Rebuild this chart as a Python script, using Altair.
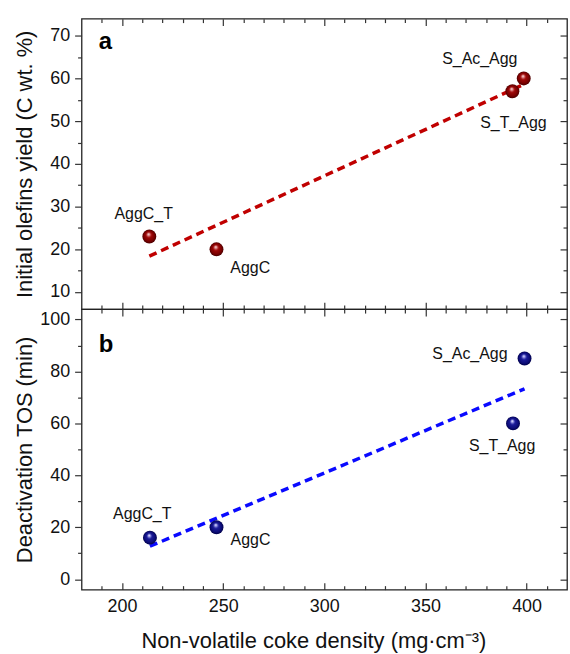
import altair as alt
import pandas as pd

# ---------------- data ----------------
samples = ["AggC_T", "AggC", "S_T_Agg", "S_Ac_Agg"]
density_a = [213.5, 246.7, 393.0, 398.6]
olefin_yield = [23.0, 20.0, 57.0, 60.0]
density_b = [213.8, 246.7, 393.3, 399.0]
deact_tos = [16.0, 20.0, 60.0, 85.0]

fit_a_x = [213.5, 398.6]
fit_a_y = [18.4, 58.6]
fit_b_x = [213.8, 399.0]
fit_b_y = [12.7, 73.3]

label_a_x = [210.7, 263.4, 393.5, 376.9]
label_a_y = [27.0, 14.4, 48.4, 63.3]
label_b_x = [210.0, 263.5, 387.9, 372.0]
label_b_y = [23.0, 13.1, 49.3, 84.7]

letter_a = ["a"]
letter_a_x = [188.5]
letter_a_y = [67.0]
letter_b = ["b"]
letter_b_x = [188.5]
letter_b_y = [87.6]

x_domain = [180, 420]
x_major = [200, 250, 300, 350, 400]
x_minor = [190, 210, 220, 230, 240, 260, 270, 280, 290, 310, 320, 330, 340,
           360, 370, 380, 390, 410]
ya_domain = [6, 74]
ya_major = [10, 20, 30, 40, 50, 60, 70]
ya_minor = [15, 25, 35, 45, 55, 65]
yb_domain = [-4, 104]
yb_major = [0, 20, 40, 60, 80, 100]
yb_minor = [10, 30, 50, 70, 90]

x_title = "Non-volatile coke density (mg\u00b7cm\u207b\u00b3)"
ya_title = "Initial olefins yield (C wt. %)"
yb_title = "Deactivation TOS (min)"

# ---------------- styling ----------------
FONT = "Liberation Sans"
INK = "#111111"
TICK = "#333333"
W = 488
HA = 292
HB = 282


def sphere(light, mid, dark, edge):
    return alt.RadialGradient(
        gradient="radial",
        stops=[
            alt.GradientStop(color="#ffffff", offset=0),
            alt.GradientStop(color=light, offset=0.14),
            alt.GradientStop(color=mid, offset=0.38),
            alt.GradientStop(color=dark, offset=0.78),
            alt.GradientStop(color=edge, offset=1),
        ],
        x1=0.44, y1=0.32, r1=0,
        x2=0.5, y2=0.5, r2=0.5,
    )


red_ball = sphere("#e8a0a0", "#a00808", "#7a0000", "#480000")
blue_ball = sphere("#a8a8f0", "#1c1c9a", "#0c0c78", "#000048")


def tick_axis(orient, values, size, offset=0):
    return alt.Axis(orient=orient, values=values, tickSize=size, tickColor=TICK,
                    tickWidth=1.2, labels=False, domain=False, grid=False,
                    title=None, offset=offset)


def build_panel(H, px, py, fx, fy, lx, ly, let_txt, let_x, let_y,
                ydom, ymaj, ymin, ytitle, ball, line_color, show_x):
    xs = alt.Scale(domain=x_domain, nice=False, zero=False)
    ys = alt.Scale(domain=ydom, nice=False, zero=False)

    y_main = alt.Axis(orient="left", values=ymaj, tickSize=7, tickColor=TICK,
                      tickWidth=1.2, domain=False, grid=False,
                      labelFont=FONT, labelFontSize=18, labelColor=INK,
                      labelPadding=5, title=ytitle, titleFont=FONT,
                      titleFontSize=22, titleFontWeight="normal",
                      titleColor=INK, titleX=-57, titleY=H / 2,
                      titleAngle=270, titleBaseline="middle",
                      titleAlign="center")
    x_main = alt.Axis(orient="bottom", values=x_major, ticks=False, tickSize=0,
                      domain=False, grid=False, labelFont=FONT,
                      labelFontSize=18, labelColor=INK, labelPadding=8,
                      title=x_title, titleFont=FONT, titleFontSize=22,
                      titleFontWeight="normal", titleColor=INK,
                      titleX=233, titleY=41, titleBaseline="top",
                      titleAlign="center")

    x_axes = [tick_axis("top", x_major, 7, -H),
              tick_axis("top", x_minor, 4, -H),
              tick_axis("bottom", x_major, 7, -H),
              tick_axis("bottom", x_minor, 4, -H)]
    if show_x:
        x_axes.append(x_main)
    y_axes = [y_main,
              tick_axis("left", ymin, 4),
              tick_axis("left", ymaj, 7, -W),
              tick_axis("left", ymin, 4, -W)]
    n = max(len(x_axes), len(y_axes))

    pts = pd.DataFrame({"x": px, "y": py, "sample": samples})
    fit = pd.DataFrame({"x": fx, "y": fy})
    lbl = pd.DataFrame({"x": lx, "y": ly, "t": samples})
    let = pd.DataFrame({"x": let_x, "y": let_y, "t": let_txt})

    def enc(chart, i, text=False):
        xa = x_axes[i] if i < len(x_axes) else None
        ya = y_axes[i] if i < len(y_axes) else None
        kw = {}
        kw["x"] = alt.X("x:Q", scale=xs, axis=xa) if xa is not None else alt.X("x:Q", scale=xs, axis=None)
        kw["y"] = alt.Y("y:Q", scale=ys, axis=ya) if ya is not None else alt.Y("y:Q", scale=ys, axis=None)
        if text:
            kw["text"] = alt.Text("t:N")
        return chart.encode(**kw)

    layers = [
        enc(alt.Chart(fit).mark_line(color=line_color, strokeWidth=3.5,
                                     strokeDash=[8, 5]), 0),
        enc(alt.Chart(pts).mark_circle(size=196, fill=ball, opacity=1), 1),
        enc(alt.Chart(lbl).mark_text(font=FONT, fontSize=16, color=INK,
                                     align="center", baseline="alphabetic"), 2, True),
        enc(alt.Chart(let).mark_text(font=FONT, fontSize=24, fontWeight="bold",
                                     color="#000000", align="left",
                                     baseline="alphabetic"), 3, True),
    ]
    for i in range(4, n):
        layers.append(enc(alt.Chart(pts).mark_point(opacity=0), i))

    return alt.layer(*layers).resolve_axis(x="independent", y="independent").properties(width=W, height=H)


panel_a = build_panel(HA, density_a, olefin_yield, fit_a_x, fit_a_y,
                      label_a_x, label_a_y, letter_a, letter_a_x, letter_a_y,
                      ya_domain, ya_major, ya_minor, ya_title, red_ball,
                      "#c00000", False)
panel_b = build_panel(HB, density_b, deact_tos, fit_b_x, fit_b_y,
                      label_b_x, label_b_y, letter_b, letter_b_x, letter_b_y,
                      yb_domain, yb_major, yb_minor, yb_title, blue_ball,
                      "#0a0aff", True)

chart = alt.vconcat(panel_a, panel_b, spacing=0, bounds="flush").properties(
    padding={"left": 13, "top": 15, "right": 1, "bottom": 3},
    background="white",
).configure_view(stroke="#222222", strokeWidth=1.3)

chart.save("out.html", embed_options={"renderer": "svg", "actions": False})
